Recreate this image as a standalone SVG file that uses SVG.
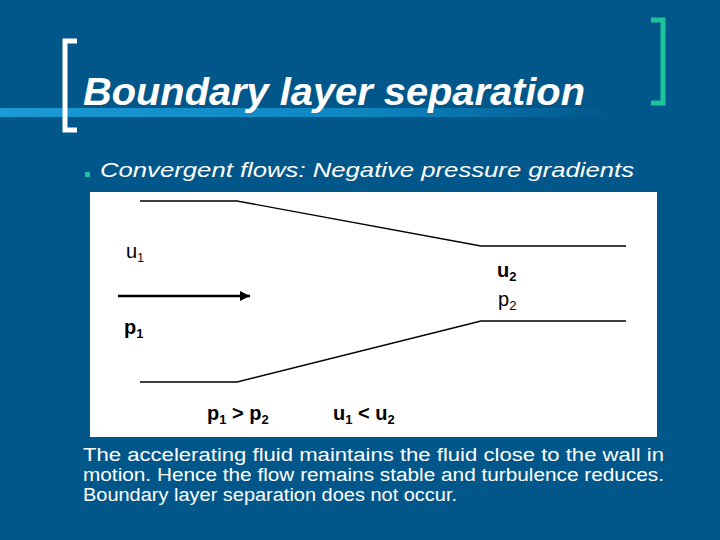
<svg xmlns="http://www.w3.org/2000/svg" width="720" height="540" viewBox="0 0 720 540">
<defs>
<linearGradient id="bar" x1="0" x2="1" y1="0" y2="0">
<stop offset="0" stop-color="#1a9ad6"/><stop offset="0.6" stop-color="#0d86c0"/><stop offset="1" stop-color="#02578a"/>
</linearGradient>
<marker id="ah" viewBox="0 0 10 10" refX="10" refY="5" markerWidth="16" markerHeight="10" markerUnits="userSpaceOnUse" orient="auto"><path d="M0,0L10,5L0,10z" fill="#000"/></marker>
</defs>
<style>
.w{fill:#fff;font-family:"Liberation Sans",Arial,sans-serif}
.d{font-family:"Liberation Sans",Arial,sans-serif;font-size:20px;fill:#000}
.l{stroke:#000;stroke-width:1.3;fill:none}
</style>
<rect width="720" height="540" fill="#02578a"/>
<rect x="0" y="108" width="610" height="9" fill="url(#bar)"/>
<path d="M77,41H65V130H77" fill="none" stroke="#fff" stroke-width="5"/>
<path d="M651,20H663V103H651" fill="none" stroke="#1dc49a" stroke-width="5"/>
<text x="83" y="105" class="w" font-size="38" font-weight="bold" font-style="italic" textLength="502" lengthAdjust="spacingAndGlyphs">Boundary layer separation</text>
<rect x="85" y="172" width="5" height="5" fill="#1dc49a"/>
<text x="100" y="177" class="w" font-size="21" font-style="italic" textLength="534" lengthAdjust="spacingAndGlyphs">Convergent flows: Negative pressure gradients</text>
<g id="figure">
<rect x="90" y="192" width="567" height="245" fill="#fff"/>
<g id="connectors">
<path class="l" d="M140,201H237L481,246H626"/>
<path class="l" d="M140,382H237L481,321H626"/>
<line x1="118" y1="296" x2="250" y2="296" stroke="#000" stroke-width="2.5" marker-end="url(#ah)"/>
</g>
<g id="labels">
<text x="126" y="258" class="d">u<tspan font-size="12" dy="4">1</tspan></text>
<text x="497" y="277" class="d" font-weight="bold">u<tspan font-size="13" dy="4">2</tspan></text>
<text x="498" y="306" class="d">p<tspan font-size="13" dy="4">2</tspan></text>
<text x="124" y="334" class="d" font-weight="bold">p<tspan font-size="13" dy="4">1</tspan></text>
<text x="207" y="420" class="d" font-weight="bold">p<tspan font-size="13" dy="4">1</tspan><tspan dy="-4"> &gt; p</tspan><tspan font-size="13" dy="4">2</tspan></text>
<text x="333" y="420" class="d" font-weight="bold">u<tspan font-size="13" dy="4">1</tspan><tspan dy="-4"> &lt; u</tspan><tspan font-size="13" dy="4">2</tspan></text>
</g>
</g>
<g class="w" font-size="18">
<text x="83" y="461" textLength="581" lengthAdjust="spacingAndGlyphs">The accelerating fluid maintains the fluid close to the wall in</text>
<text x="83" y="481" textLength="581" lengthAdjust="spacingAndGlyphs">motion. Hence the flow remains stable and turbulence reduces.</text>
<text x="83" y="501" textLength="374" lengthAdjust="spacingAndGlyphs">Boundary layer separation does not occur.</text>
</g>
</svg>
